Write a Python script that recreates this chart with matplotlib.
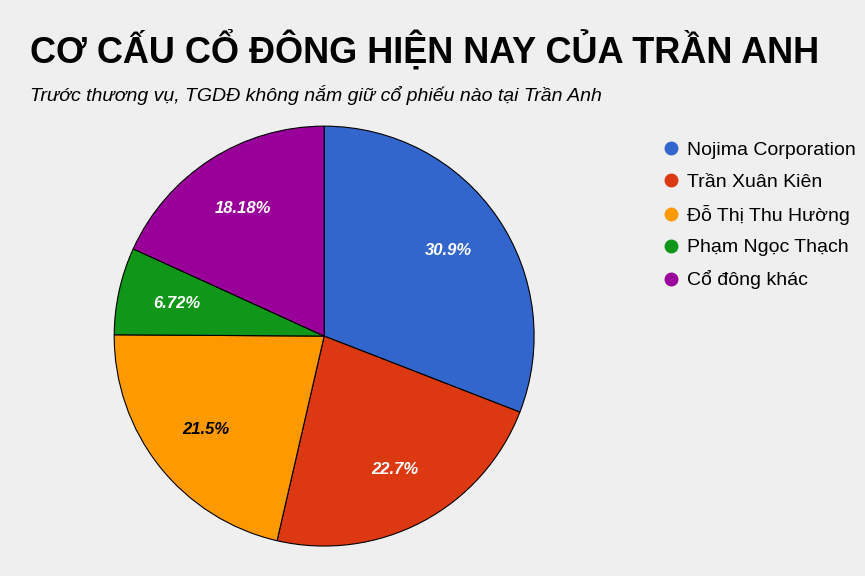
import matplotlib
matplotlib.use("Agg")
import matplotlib.pyplot as plt
from matplotlib.lines import Line2D
import numpy as np

plt.rcParams['font.family'] = ['Liberation Sans', 'DejaVu Sans']

labels = ["Nojima Corporation", "Trần Xuân Kiên", "Đỗ Thị Thu Hường", "Phạm Ngọc Thạch", "Cổ đông khác"]
values = [30.9, 22.7, 21.5, 6.72, 18.18]
pct_labels = ["30.9%", "22.7%", "21.5%", "6.72%", "18.18%"]
colors = ["#3366cc", "#dc3912", "#ff9900", "#109618", "#990099"]
txt_colors = ["white", "white", "black", "white", "white"]

bg = "#efefef"
fig = plt.figure(figsize=(8.65, 5.76), dpi=100, facecolor=bg)
ax = fig.add_axes([0.132, 0.052, 0.4855, 0.729])
ax.set_facecolor(bg)
wedges, _ = ax.pie(values, colors=colors, startangle=90, counterclock=False,
                   wedgeprops=dict(edgecolor="black", linewidth=0.8))
ax.set_xlim(-1, 1)
ax.set_ylim(-1, 1)
ax.set_aspect("equal")
for w, t, c in zip(wedges, pct_labels, txt_colors):
    ang = np.deg2rad((w.theta1 + w.theta2) / 2)
    ax.text(0.72 * np.cos(ang), 0.72 * np.sin(ang), t, ha="center", va="center",
            color=c, fontsize=12, fontweight="bold", style="italic")

fig.text(30 / 865, 1 - 50 / 576, "CƠ CẤU CỔ ĐÔNG HIỆN NAY CỦA TRẦN ANH",
         fontsize=26, fontweight="bold", va="center", ha="left")
fig.text(30 / 865, 1 - 95 / 576, "Trước thương vụ, TGDĐ không nắm giữ cổ phiếu nào tại Trần Anh",
         fontsize=14, style="italic", va="center", ha="left")

handles = [Line2D([], [], marker="o", linestyle="", markersize=9, markerfacecolor=c,
                  markeredgecolor=c) for c in colors]
fig.legend(handles, labels, loc="upper left", bbox_to_anchor=(642 / 865, 1 - 124 / 576),
           frameon=False, fontsize=14, handletextpad=0.2, labelspacing=0.72,
           handlelength=1.2)
fig.savefig("out.png", dpi=100, facecolor=bg)
